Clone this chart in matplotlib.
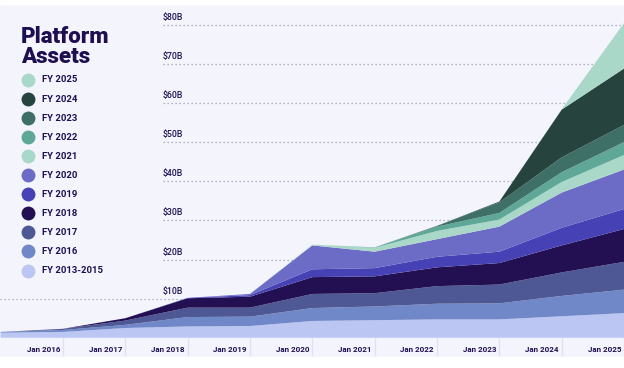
import matplotlib
matplotlib.use("Agg")
import matplotlib.pyplot as plt
from matplotlib.transforms import offset_copy
import numpy as np

# platform assets by fiscal-year cohort, $B, value at Jan of each year
years = [2015, 2016, 2017, 2018, 2019, 2020, 2021, 2022, 2023, 2024, 2025]
fy_2013_2015 = [1.3, 1.5, 2.5, 2.9, 3.0, 4.3, 4.5, 4.7, 4.7, 5.5, 6.3]
fy_2016 = [0.2, 0.5, 0.8, 2.4, 2.4, 3.3, 3.5, 4.0, 4.1, 5.2, 6.0]
fy_2017 = [0.0, 0.3, 1.1, 2.4, 2.3, 3.6, 3.4, 4.5, 4.8, 6.0, 7.1]
fy_2018 = [0.0, 0.0, 0.6, 2.4, 2.8, 4.3, 4.3, 4.8, 5.5, 6.9, 8.4]
fy_2019 = [0.0, 0.0, 0.0, 0.1, 0.4, 2.0, 2.1, 2.7, 2.9, 4.5, 5.1]
fy_2020 = [0.0, 0.0, 0.0, 0.0, 0.3, 6.1, 4.2, 4.5, 6.4, 9.0, 10.1]
fy_2021 = [0.0, 0.0, 0.0, 0.0, 0.0, 0.2, 1.0, 2.1, 1.8, 2.7, 3.7]
fy_2022 = [0.0, 0.0, 0.0, 0.0, 0.0, 0.0, 0.1, 1.1, 1.7, 2.5, 3.3]
fy_2023 = [0.0, 0.0, 0.0, 0.0, 0.0, 0.0, 0.0, 0.2, 2.7, 3.8, 4.4]
fy_2024 = [0.0, 0.0, 0.0, 0.0, 0.0, 0.0, 0.0, 0.0, 0.2, 12.2, 14.4]
fy_2025 = [0.0, 0.0, 0.0, 0.0, 0.0, 0.0, 0.0, 0.0, 0.0, 0.1, 11.6]

layers = [fy_2013_2015, fy_2016, fy_2017, fy_2018, fy_2019, fy_2020,
          fy_2021, fy_2022, fy_2023, fy_2024, fy_2025]
names = ["FY 2013-2015", "FY 2016", "FY 2017", "FY 2018", "FY 2019", "FY 2020",
         "FY 2021", "FY 2022", "FY 2023", "FY 2024", "FY 2025"]
colors = ["#bcc6f2", "#7088c8", "#4e5894", "#231052", "#4641b4", "#6c6bc6",
          "#a9d8c9", "#5fa898", "#3f7068", "#26433e", "#a9d8c9"]

yticks = [10, 20, 30, 40, 50, 60, 70, 80]
ylabels = ["$10B", "$20B", "$30B", "$40B", "$50B", "$60B", "$70B", "$80B"]
xticks = [2016, 2017, 2018, 2019, 2020, 2021, 2022, 2023, 2024, 2025]
xlabels = ["Jan %d" % y for y in xticks]

bg = "#f4f4fd"
ink = "#1e1050"
plt.rcParams["font.family"] = ["Roboto", "DejaVu Sans"]

fig = plt.figure(figsize=(6.24, 3.68), dpi=100)
fig.patch.set_facecolor(bg)

# main plot, 0..80B spans px 337.8 -> 24.7
ax = fig.add_axes([0.0, 0.0821, 1.0, 0.8508 * 82 / 80])
ax.set_facecolor("none")
ax.set_xlim(2014.99, 2025.0)
ax.set_ylim(0, 82)
ax.axis("off")

ax.stackplot(years, *layers, colors=colors, linewidth=0, zorder=3)

# dotted gridlines, only the $10B one runs under the legend
ytr = ax.get_yaxis_transform()
for v, lab in zip(yticks, ylabels):
    x0 = 0.0 if v == 10 else 0.261
    ax.hlines(v, x0, 1.0, transform=ytr, colors="#9c9cb4", lw=0.9,
              linestyles=(0, (1, 2.2)), zorder=1)
    ax.text(0.261, v, lab, transform=offset_copy(ytr, fig, y=3, units="dots"),
            ha="left", va="bottom", fontsize=6.3, color=ink,
            fontweight="medium", zorder=2)

# x labels and the little separators in the bottom band
ax.vlines(xticks, -4.6, 0, colors="#e0e0f0", lw=1, clip_on=False, zorder=1)
xtr = offset_copy(ax.get_xaxis_transform(), fig, x=-3, y=-11.5, units="dots")
for x, lab in zip(xticks, xlabels):
    ax.text(x, 0, lab, transform=xtr, ha="right", va="center",
            fontsize=5.8, color=ink, fontweight="bold")

# overlay in pixel coords for title and legend
ov = fig.add_axes([0, 0, 1, 1])
ov.set_xlim(0, 624)
ov.set_ylim(368, 0)
ov.axis("off")
ov.axhspan(0, 4, color="white", zorder=0)
ov.axhspan(357, 368, color="white", zorder=0)

ov.text(21, 43, "Platform", fontsize=16, fontweight="heavy", color=ink,
        family="Roboto", va="baseline", ha="left")
ov.text(21, 63, "Assets", fontsize=16, fontweight="heavy", color=ink,
        family="Roboto", va="baseline", ha="left")

for i, (nm, c) in enumerate(zip(names[::-1], colors[::-1])):
    yy = 80 + 19.05 * i
    ov.scatter([28], [yy], s=100, color=c, linewidths=0)
    ov.text(42, yy, nm, fontsize=6.8, color=ink, fontweight="bold",
            va="center", ha="left")

fig.savefig("out.png", dpi=100, facecolor=fig.get_facecolor())
